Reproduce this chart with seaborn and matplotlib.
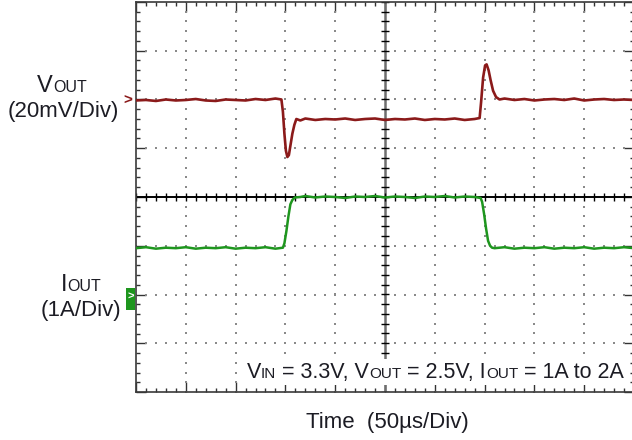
import matplotlib
matplotlib.use("Agg")
import numpy as np
import pandas as pd
import seaborn as sns
import matplotlib.pyplot as plt
from matplotlib.offsetbox import TextArea, HPacker, AnnotationBbox
from matplotlib.ticker import MultipleLocator
from matplotlib.patches import Rectangle

# ---------------- data (in scope divisions) ----------------
vout_t = [0.0, 0.2, 0.4, 0.6, 0.8, 1.0, 1.2, 1.4, 1.6, 1.8,
          2.0, 2.2, 2.4, 2.6, 2.8, 2.92, 2.95, 2.98, 3.01, 3.04,
          3.07, 3.10, 3.14, 3.18, 3.22, 3.3, 3.4, 3.6, 3.8, 4.0,
          4.2, 4.4, 4.6, 4.8, 5.0, 5.2, 5.4, 5.6, 5.8, 6.0,
          6.2, 6.4, 6.6, 6.8, 6.9, 6.93, 6.97, 7.01, 7.04, 7.08,
          7.12, 7.17, 7.23, 7.3, 7.4, 7.6, 7.8, 8.0, 8.2, 8.4,
          8.6, 8.8, 9.0, 9.2, 9.4, 9.6, 9.8, 10.0]
vout_v = [1.98, 1.99, 1.97, 2.00, 1.98, 1.99, 2.01, 1.98, 1.97, 2.00,
          1.99, 1.98, 2.01, 1.99, 2.02, 2.00, 1.75, 1.30, 0.95, 0.82,
          0.86, 1.05, 1.30, 1.48, 1.60, 1.57, 1.61, 1.58, 1.60, 1.59,
          1.61, 1.58, 1.60, 1.61, 1.58, 1.60, 1.59, 1.61, 1.58, 1.60,
          1.59, 1.61, 1.58, 1.60, 1.62, 1.95, 2.45, 2.70, 2.72, 2.60,
          2.40, 2.18, 2.05, 2.00, 2.02, 1.99, 2.01, 1.98, 2.00, 2.01,
          1.99, 2.02, 1.98, 2.00, 2.01, 1.99, 2.00, 1.99]

iout_t = [0.0, 0.2, 0.4, 0.6, 0.8, 1.0, 1.2, 1.4, 1.6, 1.8,
          2.0, 2.2, 2.4, 2.6, 2.8, 2.95, 2.98, 3.02, 3.06, 3.10,
          3.14, 3.19, 3.3, 3.4, 3.6, 3.8, 4.0, 4.2, 4.4, 4.6,
          4.8, 5.0, 5.2, 5.4, 5.6, 5.8, 6.0, 6.2, 6.4, 6.6,
          6.8, 6.92, 6.95, 6.99, 7.03, 7.07, 7.11, 7.15, 7.2, 7.4,
          7.6, 7.8, 8.0, 8.2, 8.4, 8.6, 8.8, 9.0, 9.2, 9.4,
          9.6, 9.8, 10.0]
iout_v = [-1.05, -1.03, -1.06, -1.04, -1.05, -1.03, -1.06, -1.04, -1.05, -1.03,
          -1.06, -1.04, -1.05, -1.03, -1.06, -1.04, -0.95, -0.70, -0.40, -0.15,
          -0.06, -0.01, 0.00, 0.02, -0.01, 0.01, 0.00, -0.02, 0.01, 0.00,
          0.02, -0.01, 0.01, 0.00, -0.02, 0.01, 0.00, 0.02, -0.01, 0.01,
          0.00, -0.02, -0.10, -0.35, -0.65, -0.90, -1.00, -1.04, -1.05, -1.03,
          -1.06, -1.04, -1.05, -1.03, -1.06, -1.04, -1.05, -1.03, -1.06, -1.04,
          -1.05, -1.03, -1.05]

VCOL = "#8b1a1a"
GCOL = "#1e961e"
TXT = "#1c1c24"

sns.set_style("white")
plt.rcParams['font.family'] = ['Liberation Sans', 'DejaVu Sans']

W, H = 632, 440
fig = plt.figure(figsize=(W / 100, H / 100), dpi=100)
ax = fig.add_axes([136 / W, 48 / H, 498 / W, 390 / H])
ax.set_xlim(0, 10)
ax.set_ylim(-4, 4)

# dotted graticule
gx, gy = [], []
for x in range(1, 10):
    if x == 5:
        continue
    ys = np.arange(-4, 4.001, 0.2)
    gx += [x] * len(ys)
    gy += list(ys)
for y in range(-3, 4):
    if y == 0:
        continue
    xs = np.arange(0, 10.001, 0.2)
    gx += list(xs)
    gy += [y] * len(xs)
ax.scatter(gx, gy, s=1.8, marker='s', color='#8a8a8a', linewidths=0, zorder=1)

# center cross with ticks
ax.axvline(5, color='#6e6e6e', lw=1.8, zorder=2)
ax.axhline(0, color='black', lw=1.4, zorder=2)
tk = np.arange(-4, 4.001, 0.2)
ax.hlines(tk, 5 - 0.09, 5 + 0.09, color='black', lw=1.0, zorder=2)
tx = np.arange(0, 10.001, 0.2)
ax.vlines(tx, -0.09, 0.09, color='black', lw=1.0, zorder=2)

# traces
df_v = pd.DataFrame({'t': vout_t, 'v': vout_v})
df_i = pd.DataFrame({'t': iout_t, 'v': iout_v})
sns.lineplot(data=df_v, x='t', y='v', color=VCOL, lw=1.9, ax=ax,
             estimator=None, sort=False, zorder=4)
sns.lineplot(data=df_i, x='t', y='v', color=GCOL, lw=1.8, ax=ax,
             estimator=None, sort=False, zorder=3)
ax.set_xlabel('')
ax.set_ylabel('')

# frame ticks
ax.xaxis.set_major_locator(MultipleLocator(1))
ax.xaxis.set_minor_locator(MultipleLocator(0.2))
ax.yaxis.set_major_locator(MultipleLocator(1))
ax.yaxis.set_minor_locator(MultipleLocator(0.2))
ax.tick_params(which='both', direction='in', top=True, right=True,
               bottom=True, left=True, labelbottom=False, labelleft=False,
               color='#333333', width=1.0)
ax.tick_params(which='major', length=7)
ax.tick_params(which='minor', length=3.2)
for s in ax.spines.values():
    s.set_color('#3a3a3a')
    s.set_linewidth(1.2)


def px(x, y):
    return (x / W, 1 - y / H)


def mixed(parts, xy, align=(0.5, 0.5), bg=False):
    kids = [TextArea(s, textprops=dict(fontsize=fs, color=TXT)) for s, fs in parts]
    box = HPacker(children=kids, align='baseline', pad=0, sep=0)
    ab = AnnotationBbox(box, (xy[0], H - xy[1]), xycoords='figure pixels',
                        box_alignment=align, frameon=bg, pad=0.15,
                        bboxprops=dict(facecolor='white', edgecolor='none'))
    fig.add_artist(ab)


# left labels
mixed([("V", 17), ("OUT", 11.5)], (62, 86))
fig.text(*px(63.5, 112), "(20mV/Div)", fontsize=16, color=TXT, ha='center', va='center')
fig.text(*px(128, 101), ">", fontsize=11, color=VCOL, ha='center', va='center',
         fontweight='bold')

mixed([("I", 17), ("OUT", 11.5)], (81, 285))
fig.text(*px(81, 310), "(1A/Div)", fontsize=16, color=TXT, ha='center', va='center')
fig.add_artist(Rectangle(px(126, 310), 9 / W, 22 / H, transform=fig.transFigure,
                         facecolor=GCOL, edgecolor='none'))
fig.text(*px(130.5, 297), ">", fontsize=8, color='white', ha='center', va='center',
         fontweight='bold')

# conditions annotation
mixed([("V", 15.5), ("IN", 11), (" = 3.3V, V", 15.5), ("OUT", 11),
       (" = 2.5V, I", 15.5), ("OUT", 11), (" = 1A to 2A", 15.5)],
      (624, 372), align=(1, 0.5), bg=True)

fig.text(*px(387, 422), "Time  (50\u00b5s/Div)", fontsize=16, color=TXT,
         ha='center', va='center')

fig.savefig("out.png", dpi=100)
